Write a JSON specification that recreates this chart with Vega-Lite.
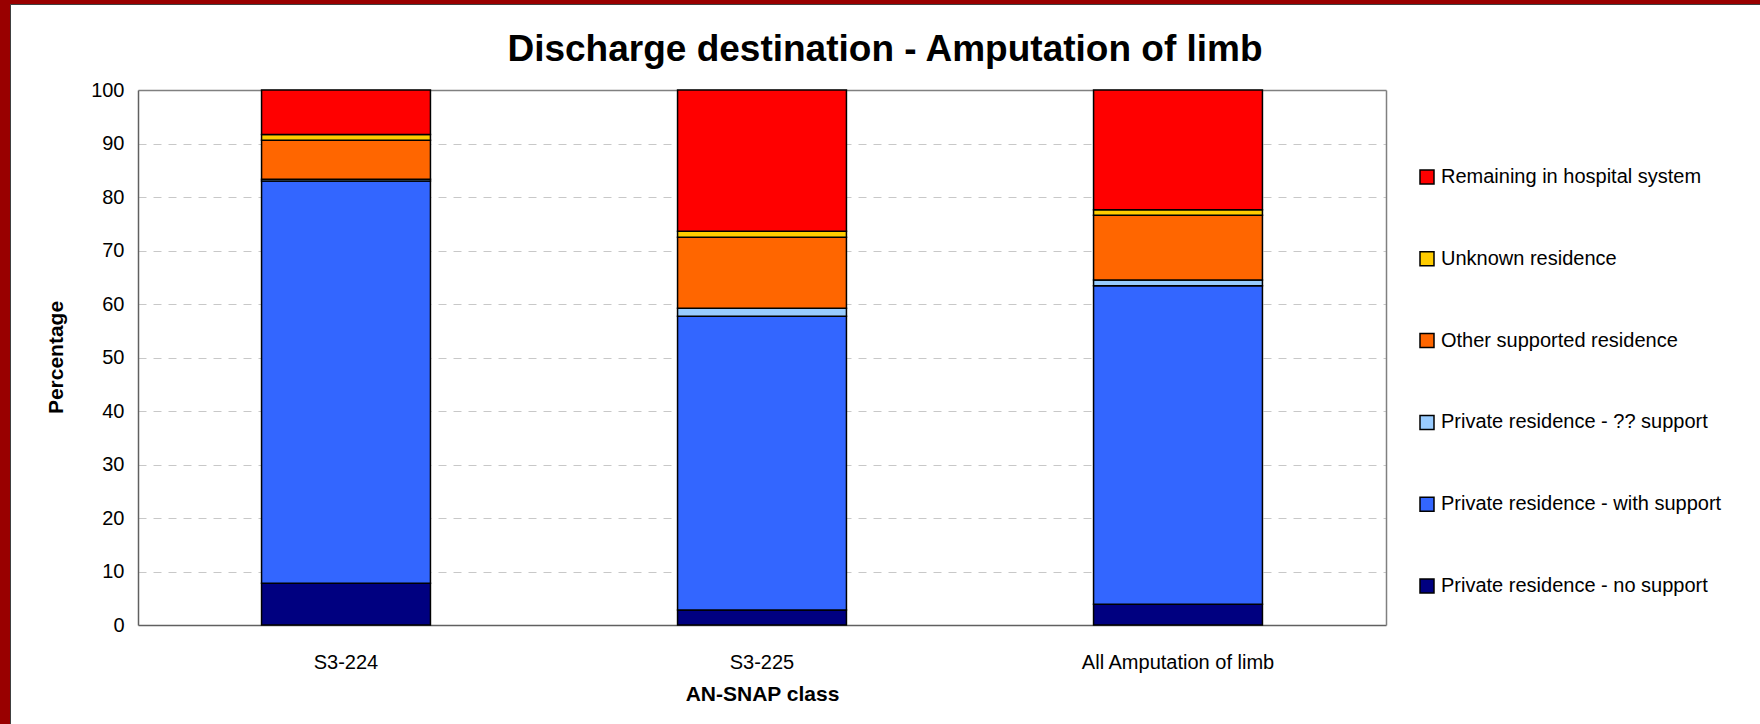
{
  "$schema": "https://vega.github.io/schema/vega-lite/v6.json",
  "width": 1750,
  "height": 720,
  "autosize": {"type": "none"},
  "padding": {"left": 10, "top": 4, "right": 0, "bottom": 0},
  "background": "#990000",
  "config": {
    "view": {"fill": "white", "stroke": "#404040", "strokeWidth": 1},
    "font": "Liberation Sans"
  },
  "title": {
    "text": "Discharge destination - Amputation of limb",
    "font": "Liberation Sans",
    "fontSize": 37,
    "fontWeight": "bold",
    "color": "black",
    "anchor": "middle",
    "frame": "group",
    "offset": -83,
    "baseline": "middle"
  },
  "data": {
    "values": [
      {"cls": "S3-224", "dest": "Private residence - no support", "rank": 1, "pct": 7.8},
      {"cls": "S3-224", "dest": "Private residence - with support", "rank": 2, "pct": 75.2},
      {"cls": "S3-224", "dest": "Private residence - ?? support", "rank": 3, "pct": 0.3},
      {"cls": "S3-224", "dest": "Other supported residence", "rank": 4, "pct": 7.3},
      {"cls": "S3-224", "dest": "Unknown residence", "rank": 5, "pct": 1.1},
      {"cls": "S3-224", "dest": "Remaining in hospital system", "rank": 6, "pct": 8.3},
      {"cls": "S3-225", "dest": "Private residence - no support", "rank": 1, "pct": 2.8},
      {"cls": "S3-225", "dest": "Private residence - with support", "rank": 2, "pct": 54.9},
      {"cls": "S3-225", "dest": "Private residence - ?? support", "rank": 3, "pct": 1.5},
      {"cls": "S3-225", "dest": "Other supported residence", "rank": 4, "pct": 13.3},
      {"cls": "S3-225", "dest": "Unknown residence", "rank": 5, "pct": 1.1},
      {"cls": "S3-225", "dest": "Remaining in hospital system", "rank": 6, "pct": 26.4},
      {"cls": "All Amputation of limb", "dest": "Private residence - no support", "rank": 1, "pct": 3.9},
      {"cls": "All Amputation of limb", "dest": "Private residence - with support", "rank": 2, "pct": 59.5},
      {"cls": "All Amputation of limb", "dest": "Private residence - ?? support", "rank": 3, "pct": 1.1},
      {"cls": "All Amputation of limb", "dest": "Other supported residence", "rank": 4, "pct": 12.1},
      {"cls": "All Amputation of limb", "dest": "Unknown residence", "rank": 5, "pct": 1.0},
      {"cls": "All Amputation of limb", "dest": "Remaining in hospital system", "rank": 6, "pct": 22.4}
    ]
  },
  "layer": [
    {
      "mark": {"type": "bar", "stroke": "black", "strokeWidth": 1.5},
      "encoding": {
        "x": {
          "field": "cls", "type": "nominal", "sort": null,
          "scale": {"range": [128, 1376], "paddingInner": 0.594, "paddingOuter": 0.297},
          "axis": {
            "orient": "bottom", "offset": -99,
            "title": "AN-SNAP class",
            "titleFont": "Liberation Sans", "titleFontWeight": "bold", "titleFontSize": 21, "titleColor": "black",
            "titleY": 69, "titleBaseline": "middle",
            "labelFont": "Liberation Sans", "labelFontSize": 20, "labelColor": "black", "labelAngle": 0,
            "labelPadding": 37, "labelBaseline": "middle", "labelLimit": 400,
            "ticks": false, "tickSize": 0,
            "domainColor": "#606060", "domainWidth": 1.5, "grid": false
          }
        },
        "y": {
          "field": "pct", "type": "quantitative", "stack": "zero",
          "scale": {"domain": [0, 100], "range": [621, 86], "nice": false},
          "axis": {
            "orient": "left", "offset": -128,
            "values": [0, 10, 20, 30, 40, 50, 60, 70, 80, 90, 100],
            "title": "Percentage",
            "titleFont": "Liberation Sans", "titleFontWeight": "bold", "titleFontSize": 21, "titleColor": "black",
            "titleX": -82, "titleY": 353, "titleAngle": 270, "titleAlign": "center", "titleBaseline": "middle",
            "labelFont": "Liberation Sans", "labelFontSize": 20, "labelColor": "black",
            "labelPadding": 14, "labelBaseline": "middle",
            "ticks": false, "tickSize": 0,
            "domainColor": "#606060", "domainWidth": 1.5,
            "grid": true, "gridDash": [8, 7], "gridColor": "#c8c8c8", "gridWidth": 1,
            "gridOpacity": {"condition": {"test": "datum.value === 0 || datum.value === 100", "value": 0}, "value": 1}
          }
        },
        "color": {
          "field": "dest", "type": "nominal",
          "scale": {
            "domain": ["Remaining in hospital system", "Unknown residence", "Other supported residence", "Private residence - ?? support", "Private residence - with support", "Private residence - no support"],
            "range": ["#FF0000", "#FFCC00", "#FF6600", "#99CCFF", "#3366FF", "#000080"]
          },
          "legend": {
            "orient": "none", "legendX": 1407, "legendY": 163,
            "title": null,
            "symbolType": "square", "symbolSize": 196, "symbolStrokeColor": "black", "symbolStrokeWidth": 1.5, "symbolOpacity": 1,
            "labelFont": "Liberation Sans", "labelFontSize": 20, "labelColor": "black", "labelOffset": 4, "labelLimit": 400,
            "rowPadding": 61.8, "padding": 0
          }
        },
        "order": {"field": "rank", "type": "quantitative"}
      }
    },
    {
      "mark": {"type": "bar", "opacity": 0},
      "encoding": {
        "x": {
          "field": "cls", "type": "nominal", "sort": null,
          "axis": {"orient": "top", "offset": -86, "labels": false, "ticks": false, "title": null, "grid": false, "domainColor": "#808080", "domainWidth": 1.5}
        },
        "y": {
          "field": "pct", "type": "quantitative", "stack": "zero",
          "axis": {"orient": "right", "offset": -374, "labels": false, "ticks": false, "title": null, "grid": false, "domainColor": "#808080", "domainWidth": 1.5}
        },
        "order": {"field": "rank", "type": "quantitative"}
      }
    }
  ],
  "resolve": {"axis": {"x": "independent", "y": "independent"}}
}
